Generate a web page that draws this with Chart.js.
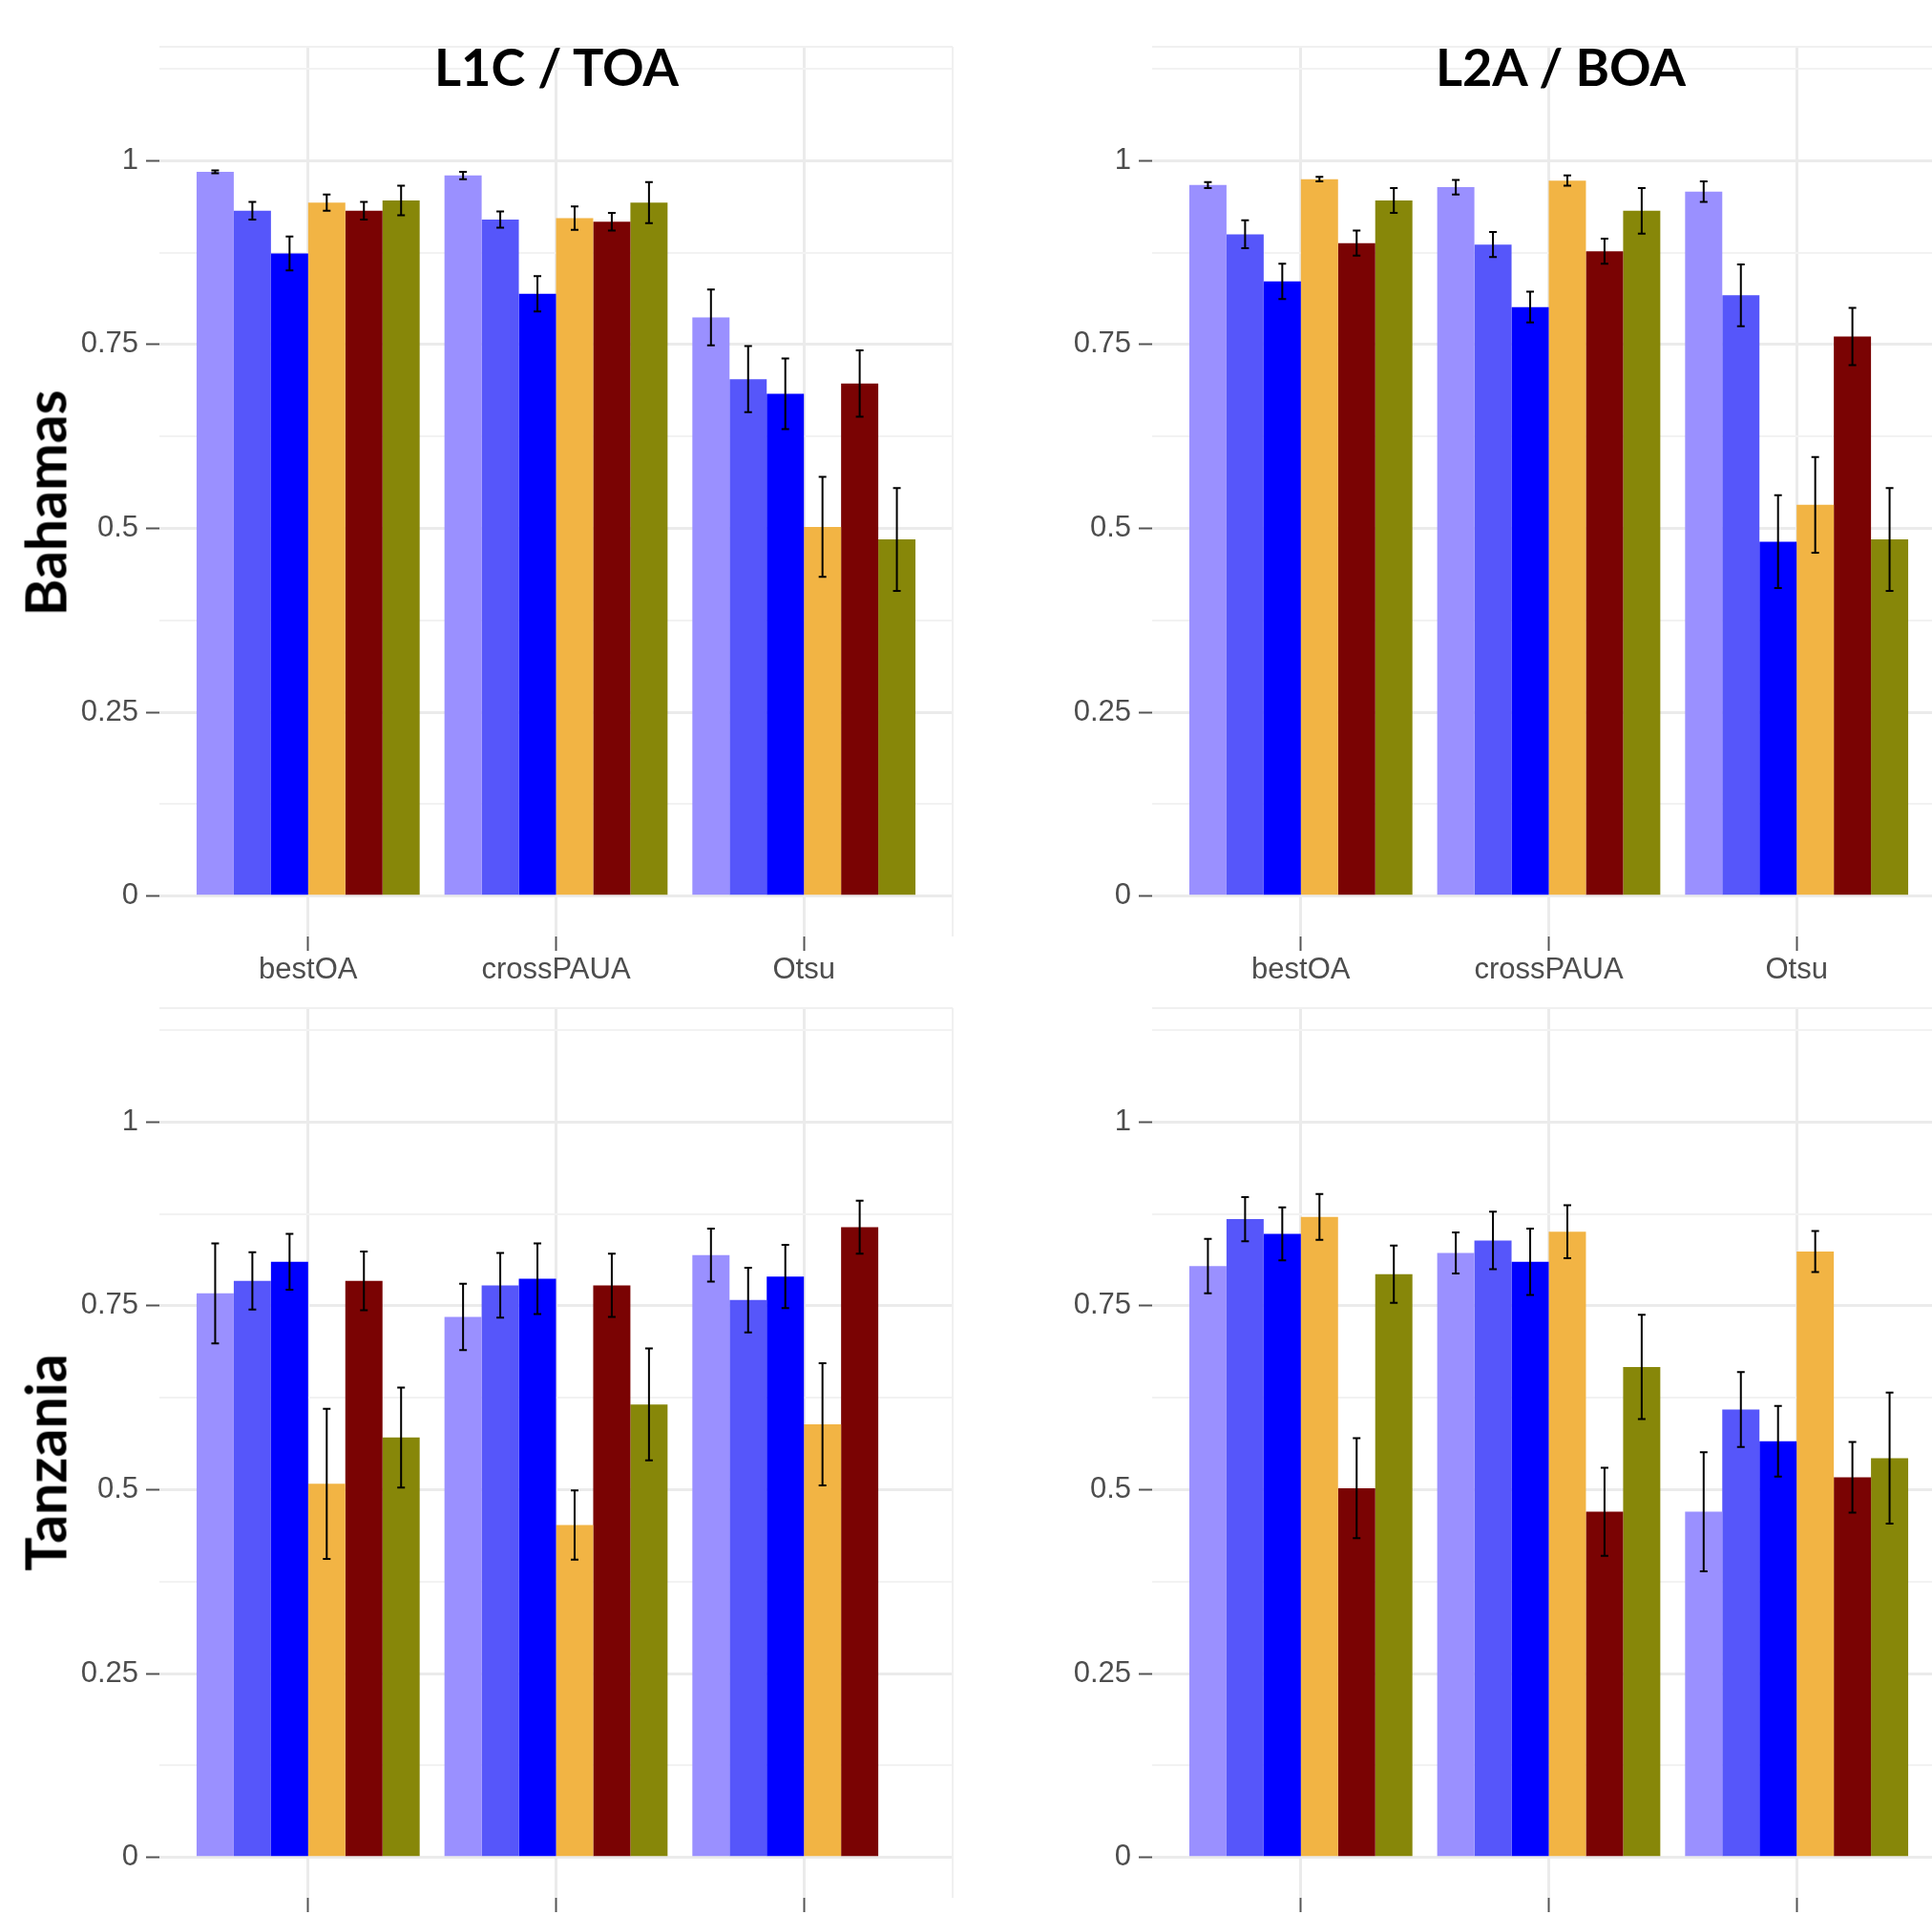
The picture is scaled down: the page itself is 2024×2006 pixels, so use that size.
<!DOCTYPE html>
<html>
<head>
<meta charset="utf-8">
<script src="https://cdn.jsdelivr.net/npm/chart.js@4.4.1/dist/chart.umd.min.js"></script>
<style>
    html, body { margin: 0; padding: 0; background: #fff; }
    body { width: 2024px; height: 2006px; position: relative; overflow: hidden; }
    canvas { position: absolute; z-index: 1; }
    .title, .rowlabel {
        position: absolute;
        z-index: 2;
        font-family: Lato, "Open Sans", sans-serif;
        font-weight: bold;
        color: #000;
        white-space: nowrap;
    }
    .title { width: 500px; text-align: center; top: 43px; font-size: 54px; line-height: 54px; }
    .rowlabel { transform: translate(-50%, -50%) rotate(-90deg); font-size: 59px; line-height: 59px; }
</style>
</head>
<body>
<div class="title" style="left: 333px;">L1C / TOA</div>
<div class="title" style="left: 1385px;">L2A / BOA</div>
<div class="rowlabel" style="left: 47px; top: 527px;">Bahamas</div>
<div class="rowlabel" style="left: 47px; top: 1532px;">Tanzania</div>

<canvas id="toa-bahamas" width="1010" height="1040" style="left:0px; top:0px;"></canvas>
<canvas id="boa-bahamas" width="1040" height="1040" style="left:1010px; top:0px;"></canvas>
<canvas id="toa-tanzania" width="1010" height="1040" style="left:0px; top:1007px;"></canvas>
<canvas id="boa-tanzania" width="1040" height="1040" style="left:1010px; top:1007px;"></canvas>

<script>
// Data (rows = series in colour order, columns = bestOA, crossPAUA, Otsu)
const categories = ['bestOA', 'crossPAUA', 'Otsu'];
const seriesNames = ['Series 1', 'Series 2', 'Series 3', 'Series 4', 'Series 5', 'Series 6'];
const seriesColors = ['#9a90ff', '#5656fa', '#0000ff', '#f2b444', '#7a0303', '#878709'];

const toaBahamasMean = [
    [0.985, 0.980, 0.787],
    [0.932, 0.920, 0.703],
    [0.874, 0.819, 0.683],
    [0.943, 0.922, 0.502],
    [0.932, 0.917, 0.697],
    [0.946, 0.943, 0.485]
];
const toaBahamasErr = [
    [0.002, 0.005, 0.038],
    [0.012, 0.011, 0.045],
    [0.023, 0.024, 0.048],
    [0.011, 0.016, 0.068],
    [0.012, 0.012, 0.045],
    [0.020, 0.028, 0.070]
];
const boaBahamasMean = [
    [0.967, 0.964, 0.958],
    [0.900, 0.886, 0.817],
    [0.836, 0.801, 0.482],
    [0.975, 0.973, 0.532],
    [0.888, 0.877, 0.761],
    [0.946, 0.932, 0.485]
];
const boaBahamasErr = [
    [0.004, 0.010, 0.014],
    [0.019, 0.017, 0.042],
    [0.024, 0.021, 0.063],
    [0.003, 0.007, 0.065],
    [0.017, 0.017, 0.039],
    [0.017, 0.031, 0.070]
];
const toaTanzaniaMean = [
    [0.767, 0.735, 0.819],
    [0.784, 0.778, 0.758],
    [0.810, 0.787, 0.790],
    [0.508, 0.452, 0.589],
    [0.784, 0.778, 0.857],
    [0.571, 0.616, null]
];
const toaTanzaniaErr = [
    [0.068, 0.045, 0.036],
    [0.039, 0.044, 0.044],
    [0.038, 0.048, 0.043],
    [0.102, 0.047, 0.083],
    [0.040, 0.043, 0.036],
    [0.068, 0.076, null]
];
const boaTanzaniaMean = [
    [0.804, 0.822, 0.470],
    [0.868, 0.839, 0.609],
    [0.848, 0.810, 0.566],
    [0.871, 0.851, 0.824],
    [0.502, 0.470, 0.517],
    [0.793, 0.667, 0.543]
];
const boaTanzaniaErr = [
    [0.037, 0.028, 0.081],
    [0.030, 0.039, 0.051],
    [0.036, 0.045, 0.048],
    [0.031, 0.036, 0.028],
    [0.068, 0.060, 0.048],
    [0.039, 0.071, 0.089]
];

const yTicks = [0, 0.125, 0.25, 0.375, 0.5, 0.625, 0.75, 0.875, 1, 1.125];
const Y_MIN = -0.055, Y_MAX = 1.155;

Chart.defaults.font.family = '"Liberation Sans", Arial, sans-serif';
Chart.defaults.font.size = 31;
Chart.defaults.color = '#4d4d4d';

function isMajor(v) {
    return Math.abs(v * 4 - Math.round(v * 4)) < 1e-6;
}

// error bars + panel edge lines
const errorBarPlugin = {
    id: 'errorBars',
    beforeDatasetsDraw(chart) {
        const ctx = chart.ctx, a = chart.chartArea;
        ctx.save();
        ctx.strokeStyle = '#f0f0f0';
        ctx.lineWidth = 2;
        ctx.beginPath();
        ctx.moveTo(a.left, a.top); ctx.lineTo(a.right, a.top);
        ctx.moveTo(a.right, a.top); ctx.lineTo(a.right, a.bottom);
        ctx.stroke();
        ctx.restore();
    },
    afterDatasetsDraw(chart) {
        const ctx = chart.ctx;
        const yScale = chart.scales.y;
        ctx.save();
        ctx.strokeStyle = '#000';
        ctx.lineWidth = 2;
        chart.data.datasets.forEach((ds, i) => {
            const meta = chart.getDatasetMeta(i);
            meta.data.forEach((bar, j) => {
                const v = ds.data[j].y, e = ds.errors[j];
                if (v == null || e == null) return;
                const top = yScale.getPixelForValue(v + e);
                const bot = yScale.getPixelForValue(v - e);
                ctx.beginPath();
                ctx.moveTo(bar.x, top); ctx.lineTo(bar.x, bot);
                ctx.moveTo(bar.x - 4, top); ctx.lineTo(bar.x + 4, top);
                ctx.moveTo(bar.x - 4, bot); ctx.lineTo(bar.x + 4, bot);
                ctx.stroke();
            });
        });
        ctx.restore();
    }
};

function makePanel(id, means, errs, yWidth, showXLabels) {
    const canvas = document.getElementById(id);
    const datasets = means.map((row, s) => ({
        label: seriesNames[s],
        data: row.map((v, c) => ({ x: c + 1, y: v })),
        errors: errs[s],
        backgroundColor: seriesColors[s],
        borderWidth: 0,
        categoryPercentage: 0.9,
        barPercentage: 1.0
    }));

    return new Chart(canvas, {
        type: 'bar',
        data: { datasets },
        options: {
            responsive: false,
            animation: false,
            devicePixelRatio: 1,
            layout: { padding: { top: 49, right: canvas.width - yWidth - 831, left: 0, bottom: 0 } },
            plugins: { legend: { display: false }, tooltip: { enabled: false } },
            scales: {
                x: {
                    type: 'linear',
                    min: 0.4,
                    max: 3.6,
                    offset: false,
                    afterBuildTicks: scale => { scale.ticks = [1, 2, 3].map(v => ({ value: v })); },
                    afterFit: scale => { scale.height = 59; },
                    border: { display: false },
                    grid: {
                        offset: false,
                        color: '#ebebeb',
                        lineWidth: 3,
                        drawTicks: true,
                        tickLength: 15,
                        tickWidth: 2,
                        tickColor: '#555'
                    },
                    ticks: {
                        padding: 2,
                        maxRotation: 0,
                        callback: v => showXLabels ? categories[Math.round(v) - 1] : ''
                    }
                },
                y: {
                    min: Y_MIN,
                    max: Y_MAX,
                    afterBuildTicks: scale => { scale.ticks = yTicks.concat([Y_MAX]).map(v => ({ value: v })); },
                    afterFit: scale => { scale.width = yWidth; },
                    border: { display: false },
                    grid: {
                        color: ctx => {
                            const v = ctx.tick.value;
                            if (v === Y_MAX) return 'rgba(0,0,0,0)';
                            return isMajor(v) ? '#ebebeb' : '#f2f2f2';
                        },
                        lineWidth: ctx => isMajor(ctx.tick.value) ? 3 : 2,
                        drawTicks: true,
                        tickLength: 14,
                        tickWidth: 2,
                        tickColor: ctx => (ctx.tick.value !== Y_MAX && isMajor(ctx.tick.value)) ? '#555' : 'rgba(0,0,0,0)'
                    },
                    ticks: {
                        padding: 8,
                        callback: v => (v !== Y_MAX && isMajor(v)) ? String(Math.round(v * 100) / 100) : ''
                    }
                }
            }
        },
        plugins: [errorBarPlugin]
    });
}

document.addEventListener('DOMContentLoaded', function () {
    makePanel('toa-bahamas', toaBahamasMean, toaBahamasErr, 167, true);
    makePanel('boa-bahamas', boaBahamasMean, boaBahamasErr, 197, true);
    makePanel('toa-tanzania', toaTanzaniaMean, toaTanzaniaErr, 167, false);
    makePanel('boa-tanzania', boaTanzaniaMean, boaTanzaniaErr, 197, false);
});
</script>
</body>
</html>
